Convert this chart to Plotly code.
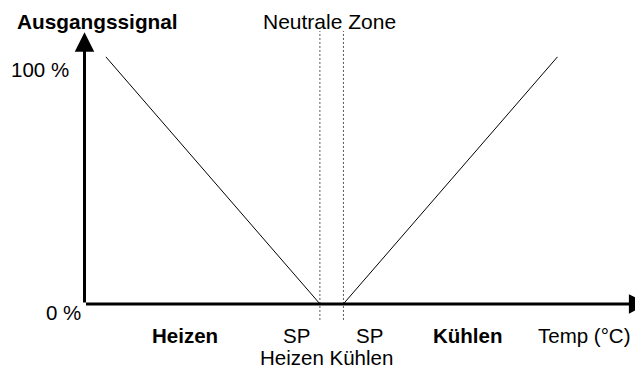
import plotly.graph_objects as go

# ---- data (abstract units: x = temperature scale, y = output signal %) ----
heat_x = [1.0, 11.0]
heat_y = [100, 0]
cool_x = [12.1, 22.1]
cool_y = [0, 100]
neutral_x = [11.0, 12.1]
neutral_y = [-6.5, 110.5]
y_ticks = [0, 100]
y_tick_labels = ["0 %", "100 %"]

FONT = "Liberation Sans, Arial, sans-serif"
FS = 20.5

fig = go.Figure()
fig.add_trace(go.Scatter(x=heat_x, y=heat_y, mode="lines",
                         line=dict(color="black", width=1), hoverinfo="skip"))
fig.add_trace(go.Scatter(x=cool_x, y=cool_y, mode="lines",
                         line=dict(color="black", width=1), hoverinfo="skip"))
for nx in neutral_x:
    fig.add_trace(go.Scatter(x=[nx, nx], y=neutral_y, mode="lines",
                             line=dict(color="#555555", width=1, dash="2px,2px"),
                             hoverinfo="skip"))

ann = []
# axis arrows
ann.append(dict(x=0, y=110, ax=0, ay=0, xref="x", yref="y", axref="x", ayref="y",
                text="", showarrow=True, arrowhead=2, arrowsize=1.3, arrowwidth=3,
                arrowcolor="black", standoff=0))
ann.append(dict(x=26.35, y=0, ax=0, ay=0, xref="x", yref="y", axref="x", ayref="y",
                text="", showarrow=True, arrowhead=2, arrowsize=1.3, arrowwidth=3,
                arrowcolor="black", standoff=0))

def txt(x, y, t, bold=False, size=FS):
    ann.append(dict(x=x, y=y, xref="x", yref="y", text=f"<b>{t}</b>" if bold else t,
                    showarrow=False, xanchor="center", yanchor="middle",
                    font=dict(family=FONT, size=size, color="black")))

txt(0.61, 114.4, "Ausgangssignal", bold=True, size=20.8)
txt(11.43, 114.4, "Neutrale Zone", size=21)
for v, lab in zip(y_ticks, y_tick_labels):
    txt(-2.06 if v == 100 else -1.0, v - 5.3 if v == 100 else v - 3.4, lab)
txt(4.7, -12.6, "Heizen", bold=True)
txt(9.9, -12.6, "SP")
txt(13.3, -12.6, "SP")
txt(11.33, -21.7, "Heizen Kühlen")
txt(17.9, -12.6, "Kühlen", bold=True)
txt(23.34, -12.6, "Temp (°C)")

fig.update_layout(
    width=643, height=369,
    margin=dict(l=0, r=0, t=0, b=0),
    paper_bgcolor="white", plot_bgcolor="white",
    showlegend=False,
    annotations=ann,
    xaxis=dict(range=[-3.575, 26.472], visible=False, fixedrange=True),
    yaxis=dict(range=[-29.6, 119.8], visible=False, fixedrange=True),
)
fig.write_html("out.html")
